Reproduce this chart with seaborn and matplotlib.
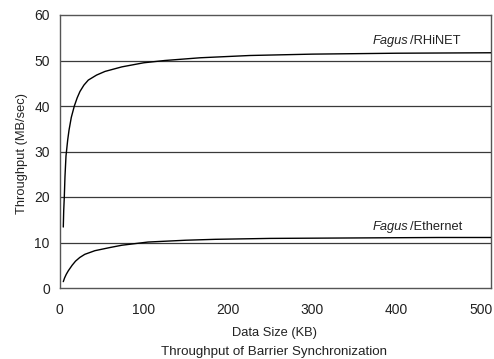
import matplotlib
matplotlib.use("Agg")
import matplotlib.pyplot as plt
import seaborn as sns
import pandas as pd

rhinet_x = [4.5, 5.0, 5.7, 6.5, 7.7, 9.7, 11.3, 14, 17.6, 21, 24.3, 29, 34.2, 44, 54, 74, 100, 125, 167, 226, 300, 400, 512]
rhinet_y = [13.4, 17.0, 20.0, 24.5, 29.0, 32.5, 34.7, 37.5, 40.0, 41.8, 43.2, 44.6, 45.7, 46.8, 47.6, 48.6, 49.5, 50.0, 50.6, 51.1, 51.4, 51.6, 51.7]
ether_x = [4.5, 6, 8, 10.5, 15, 19, 24, 30, 42, 60, 74, 105, 150, 185, 250, 350, 450, 512]
ether_y = [1.4, 2.2, 3.0, 3.8, 5.0, 5.9, 6.7, 7.4, 8.2, 8.9, 9.4, 10.1, 10.5, 10.7, 10.9, 11.0, 11.1, 11.1]
series_labels = ["RHiNET", "Ethernet"]
label_y = [54.3, 13.4]

df = pd.concat([
    pd.DataFrame({"size": rhinet_x, "tp": rhinet_y, "net": series_labels[0]}),
    pd.DataFrame({"size": ether_x, "tp": ether_y, "net": series_labels[1]}),
])

sns.set_theme(style="white")
plt.rcParams["font.family"] = ["Liberation Sans", "DejaVu Sans"]

fig = plt.figure(figsize=(4.94, 3.59), dpi=100)
ax = fig.add_axes([59.5/494, 1-288/359, (491-59.5)/494, (288-15)/359])

for y in range(10, 60, 10):
    ax.axhline(y, color="#3a3a3a", lw=0.9, zorder=1)

sns.lineplot(data=df, x="size", y="tp", units="net", estimator=None,
             color="black", lw=1.0, ax=ax, legend=False, sort=False, zorder=3)

ax.set_xlim(0, 512)
ax.set_ylim(0, 60)
ax.set_xticks([0, 100, 200, 300, 400, 500])
ax.set_yticks([0, 10, 20, 30, 40, 50, 60])
ax.tick_params(axis="x", direction="in", length=3, width=0.8, color="#555555",
               labelsize=10, pad=11, labelcolor="#222222")
ax.tick_params(axis="y", length=0, labelsize=10, pad=7, labelcolor="#222222")
for s in ax.spines.values():
    s.set_color("#555555")
    s.set_linewidth(1.0)

ax.set_xlabel("")
ax.set_ylabel("")
fig.text(275/494, 1-333/359, "Data Size (KB)", ha="center", va="center",
         fontsize=9.3, color="#222222")
fig.text(22/494, 1-154/359, "Throughput (MB/sec)", ha="center", va="center",
         rotation=90, fontsize=9.3, color="#222222")
fig.text(274/494, 1-352/359, "Throughput of Barrier Synchronization",
         ha="center", va="center", fontsize=9.6, color="#222222")

for label, ytxt in zip(series_labels, label_y):
    ax.text(414, ytxt, "Fagus", style="italic", ha="right", va="center",
            fontsize=9.3, color="#222222")
    ax.text(416, ytxt, "/" + label, ha="left", va="center",
            fontsize=9.3, color="#222222")

fig.savefig("out.png", dpi=100)
